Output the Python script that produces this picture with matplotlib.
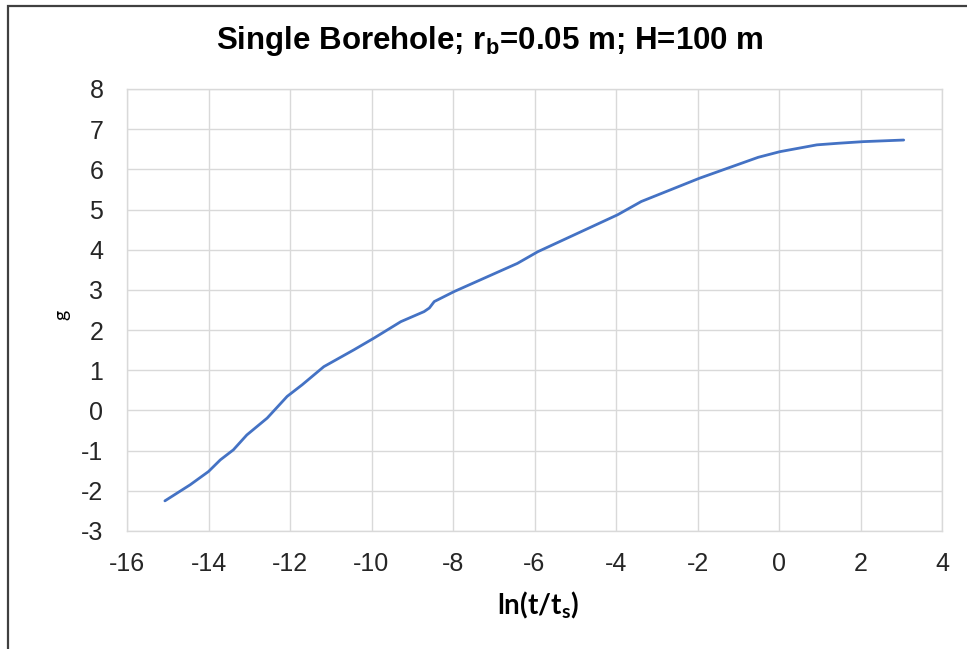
import matplotlib
matplotlib.use("Agg")
import matplotlib.pyplot as plt
from matplotlib.patches import Rectangle

# values
ln_t = [-15.07, -14.45, -14.00, -13.71, -13.39, -13.06, -12.56, -12.07, -11.70,
        -11.17, -10.43, -9.94, -9.28, -8.71, -8.58, -8.46, -7.97, -6.42, -5.92,
        -3.96, -3.38, -1.95, -0.51, 0.02, 0.93, 1.46, 2.07, 3.06]
g_vals = [-2.25, -1.85, -1.52, -1.23, -0.98, -0.61, -0.19, 0.35, 0.64,
          1.09, 1.51, 1.80, 2.21, 2.46, 2.55, 2.71, 2.96, 3.66, 3.95,
          4.87, 5.20, 5.78, 6.30, 6.44, 6.61, 6.65, 6.69, 6.73]
x_ticks = list(range(-16, 5, 2))
y_ticks = list(range(-3, 9))

plt.rcParams['axes.unicode_minus'] = False
plt.rcParams['mathtext.fontset'] = 'custom'
plt.rcParams['mathtext.bf'] = 'Liberation Sans:bold'
plt.rcParams['mathtext.sf'] = 'Lato:bold'

fig = plt.figure(figsize=(9.67, 6.49), dpi=100)
ax = fig.add_axes([127/967, 1-531/649, (942-127)/967, (531-89)/649])

ax.plot(ln_t, g_vals, color="#4472C4", linewidth=2.0, solid_capstyle="round")

ax.set_xlim(-16, 4)
ax.set_ylim(-3, 8)
ax.set_xticks(x_ticks)
ax.set_yticks(y_ticks)
ax.grid(True, color="#d9d9d9", linewidth=1.0)
ax.set_axisbelow(True)
for s in ax.spines.values():
    s.set_color("#d9d9d9")
    s.set_linewidth(1.0)
ax.tick_params(length=0, labelsize=18, labelcolor="#262626")
ax.tick_params(axis="y", pad=17)
ax.tick_params(axis="x", pad=15)
for lab in ax.get_xticklabels() + ax.get_yticklabels():
    lab.set_family("Liberation Sans")

fig.text(0.507, 0.937, r"Single Borehole; r$_\mathbf{b}$=0.05 m; H=100 m",
         family="Liberation Sans", fontweight="bold", fontsize=22.5,
         ha="center", va="center", color="#000000")
fig.text(538/967, 1-605/649, r"ln(t/t$_\mathsf{s}$)", family="Lato",
         fontweight="bold", fontsize=20, ha="center", va="center", color="#000000")
fig.text(62/967, 1-315/649, "g", family="Lato", fontsize=14, rotation=90,
         ha="center", va="center", color="#000000")

# chart frame (only left and top edges visible in the crop)
fig.add_artist(Rectangle((8/967, -0.05), 1.1, 1.05 - 6/649,
                         transform=fig.transFigure, fill=False,
                         edgecolor="#404040", linewidth=1.6))

fig.savefig("out.png", dpi=100)
